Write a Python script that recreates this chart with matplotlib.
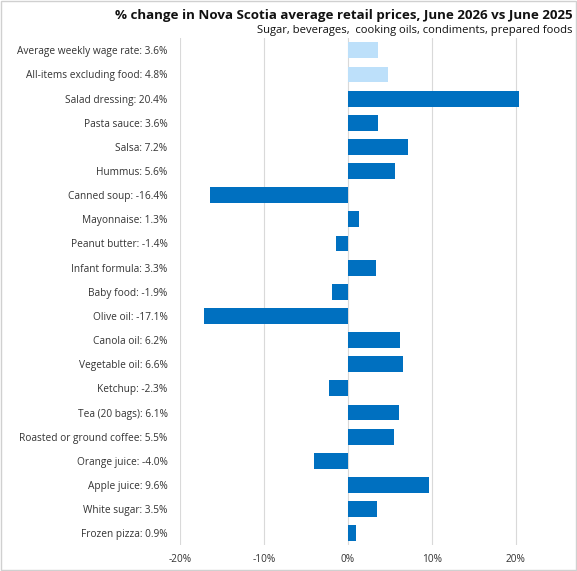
import matplotlib.pyplot as plt

# data, top to bottom as in the chart
items = ['Average weekly wage rate', 'All-items excluding food', 'Salad dressing',
         'Pasta sauce', 'Salsa', 'Hummus', 'Canned soup', 'Mayonnaise',
         'Peanut butter', 'Infant formula', 'Baby food', 'Olive oil',
         'Canola oil', 'Vegetable oil', 'Ketchup', 'Tea (20 bags)',
         'Roasted or ground coffee', 'Orange juice', 'Apple juice',
         'White sugar', 'Frozen pizza']
changes = [3.6, 4.8, 20.4, 3.6, 7.2, 5.6, -16.4, 1.3, -1.4, 3.3, -1.9, -17.1,
           6.2, 6.6, -2.3, 6.1, 5.5, -4.0, 9.6, 3.5, 0.9]
ticks = [-20, -10, 0, 10, 20]

plt.rcParams['font.family'] = ['Open Sans', 'DejaVu Sans']

fig = plt.figure(figsize=(5.77, 5.71), dpi=100)
ax = fig.add_axes([0.312, 0.045, 0.655, 0.888])

labels = [n + ': ' + ('%.1f' % v) + '%' for n, v in zip(items, changes)]
colors = ['#BDE0FA', '#BDE0FA'] + ['#0070C0'] * (len(items) - 2)
y = list(range(len(items)))
ax.barh(y, changes, height=0.66, color=colors, zorder=3)

ax.set_yticks(y)
ax.set_yticklabels(labels, fontsize=7.3, color='#333333')
ax.set_ylim(len(items) - 0.5, -0.5)
ax.set_xlim(-20, 25)
ax.set_xticks(ticks)
ax.set_xticklabels([str(t) + '%' for t in ticks], fontsize=7.3, color='#333333')
ax.tick_params(axis='y', length=0, pad=9)
ax.tick_params(axis='x', length=0, pad=6)
ax.grid(True, axis='x', color='#D9D9D9', linewidth=0.8, zorder=0)
for s in ax.spines.values():
    s.set_visible(False)

fig.text(0.992, 0.972, '% change in Nova Scotia average retail prices, June 2026 vs June 2025',
         ha='right', va='center', fontsize=9.6, fontweight='bold', color='#111111')
fig.text(0.992, 0.947, 'Sugar, beverages,  cooking oils, condiments, prepared foods',
         ha='right', va='center', fontsize=8.1, color='#111111')

# light border around the whole chart
fig.patches.append(plt.Rectangle((0.002, 0.002), 0.996, 0.996, transform=fig.transFigure,
                                 fill=False, edgecolor='#D0D0D0', linewidth=1))

fig.savefig('out.png', dpi=100)
